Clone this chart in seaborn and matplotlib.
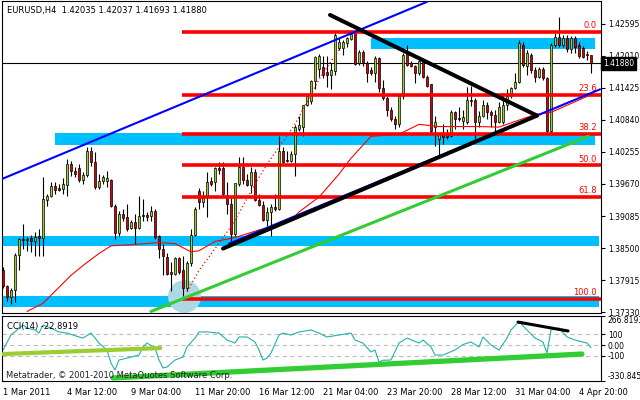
import numpy as np
import seaborn as sns
import matplotlib.pyplot as plt
from matplotlib.transforms import blended_transform_factory

OUTPUT = "out.png"

# --- EURUSD H4 bars (bar 0 = 1 Mar 2011 20:00, weekends skipped) ---
opens = [
    1.3809, 1.3780, 1.3760, 1.3773, 1.3838, 1.3867, 1.3865, 1.3869, 1.3862, 1.3872,
    1.3869, 1.3938, 1.3945, 1.3963, 1.3960, 1.3958, 1.3965, 1.4003, 1.3991, 1.3996,
    1.3974, 1.3983, 1.4027, 1.4007, 1.3962, 1.3972, 1.3972, 1.3974, 1.3927, 1.3878,
    1.3912, 1.3907, 1.3887, 1.3898, 1.3887, 1.3911, 1.3911, 1.3909, 1.3918, 1.3872,
    1.3849, 1.3834, 1.3807, 1.3803, 1.3831, 1.3809, 1.3776, 1.3822, 1.3874, 1.3954,
    1.3934, 1.3945, 1.3972, 1.3971, 1.3996, 1.3996, 1.3947, 1.3931, 1.3876, 1.3967,
    1.3998, 1.3974, 1.3965, 1.3989, 1.3938, 1.3929, 1.3902, 1.3916, 1.3925, 1.3922,
    1.4027, 1.4011, 1.4009, 1.4022, 1.4067, 1.4072, 1.4112, 1.4118, 1.4156, 1.4178,
    1.4180, 1.4172, 1.4167, 1.4174, 1.4216, 1.4216, 1.4225, 1.4232, 1.4243, 1.4189,
    1.4209, 1.4189, 1.4176, 1.4170, 1.4198, 1.4143, 1.4125, 1.4103, 1.4085, 1.4076,
    1.4127, 1.4209, 1.4189, 1.4182, 1.4170, 1.4191, 1.4163, 1.4149, 1.4072, 1.4049,
    1.4058, 1.4058, 1.4054, 1.4098, 1.4087, 1.4082, 1.4080, 1.4121, 1.4121, 1.4080,
    1.4091, 1.4111, 1.4098, 1.4094, 1.4081, 1.4080, 1.4112, 1.4127, 1.4143, 1.4154,
    1.4221, 1.4182, 1.4203, 1.4176, 1.4163, 1.4178, 1.4161, 1.4063, 1.4221, 1.4236,
    1.4221, 1.4234, 1.4214, 1.4234, 1.4221, 1.4216, 1.4205, 1.42035,
]
highs = [
    1.3816, 1.3783, 1.3776, 1.3840, 1.3869, 1.3894, 1.3871, 1.3874, 1.3880, 1.3885,
    1.3980, 1.3949, 1.3971, 1.3971, 1.3967, 1.3978, 1.4012, 1.4009, 1.3998, 1.4003,
    1.3989, 1.4034, 1.4034, 1.4025, 1.3985, 1.3983, 1.3991, 1.3976, 1.3931, 1.3918,
    1.3922, 1.3931, 1.3902, 1.3912, 1.3945, 1.3940, 1.3916, 1.3927, 1.3922, 1.3874,
    1.3858, 1.3840, 1.3825, 1.3834, 1.3834, 1.3836, 1.3827, 1.3885, 1.3925, 1.3960,
    1.3954, 1.3989, 1.3980, 1.3998, 1.4007, 1.4007, 1.3971, 1.3945, 1.3969, 1.4016,
    1.4016, 1.3985, 1.3998, 1.3994, 1.3949, 1.3936, 1.3925, 1.3931, 1.3949, 1.4054,
    1.4034, 1.4027, 1.4027, 1.4074, 1.4091, 1.4112, 1.4131, 1.4158, 1.4201, 1.4205,
    1.4201, 1.4201, 1.4189, 1.4243, 1.4234, 1.4230, 1.4236, 1.4243, 1.4245, 1.4212,
    1.4212, 1.4191, 1.4180, 1.4201, 1.4200, 1.4158, 1.4127, 1.4107, 1.4091, 1.4131,
    1.4207, 1.4221, 1.4192, 1.4185, 1.4194, 1.4194, 1.4167, 1.4149, 1.4091, 1.4061,
    1.4076, 1.4067, 1.4103, 1.4100, 1.4107, 1.4103, 1.4145, 1.4147, 1.4125, 1.4100,
    1.4121, 1.4116, 1.4103, 1.4103, 1.4116, 1.4134, 1.4140, 1.4145, 1.4170, 1.4230,
    1.4227, 1.4212, 1.4207, 1.4180, 1.4180, 1.4180, 1.4163, 1.4225, 1.4243, 1.4272,
    1.4240, 1.4240, 1.4238, 1.4238, 1.4227, 1.4220, 1.4210, 1.42037,
]
lows = [
    1.3776, 1.3753, 1.3747, 1.3751, 1.3809, 1.3849, 1.3845, 1.3843, 1.3836, 1.3836,
    1.3836, 1.3927, 1.3943, 1.3949, 1.3954, 1.3949, 1.3945, 1.3982, 1.3980, 1.3971,
    1.3967, 1.3980, 1.4000, 1.3958, 1.3958, 1.3967, 1.3962, 1.3925, 1.3867, 1.3872,
    1.3900, 1.3882, 1.3885, 1.3858, 1.3885, 1.3900, 1.3900, 1.3900, 1.3867, 1.3831,
    1.3800, 1.3800, 1.3771, 1.3800, 1.3803, 1.3762, 1.3771, 1.3818, 1.3872, 1.3922,
    1.3925, 1.3907, 1.3963, 1.3954, 1.3985, 1.3945, 1.3912, 1.3854, 1.3872, 1.3963,
    1.3967, 1.3963, 1.3951, 1.3936, 1.3927, 1.3900, 1.3891, 1.3872, 1.3918, 1.3920,
    1.4003, 1.4007, 1.4007, 1.3982, 1.4063, 1.4054, 1.4109, 1.4114, 1.4140, 1.4163,
    1.4161, 1.4145, 1.4140, 1.4167, 1.4212, 1.4203, 1.4218, 1.4230, 1.4185, 1.4185,
    1.4182, 1.4154, 1.4167, 1.4154, 1.4136, 1.4121, 1.4091, 1.4082, 1.4067, 1.4072,
    1.4123, 1.4182, 1.4180, 1.4152, 1.4167, 1.4161, 1.4145, 1.4061, 1.4036, 1.4018,
    1.4040, 1.4049, 1.4052, 1.4067, 1.4082, 1.4067, 1.4076, 1.4109, 1.4049, 1.4072,
    1.4089, 1.4085, 1.4072, 1.4061, 1.4078, 1.4076, 1.4103, 1.4125, 1.4140, 1.4152,
    1.4180, 1.4167, 1.4170, 1.4154, 1.4161, 1.4158, 1.4061, 1.4061, 1.4218, 1.4218,
    1.4218, 1.4209, 1.4207, 1.4207, 1.4198, 1.4198, 1.4194, 1.41693,
]
closes = [
    1.3780, 1.3760, 1.3773, 1.3838, 1.3867, 1.3865, 1.3867, 1.3862, 1.3871, 1.3869,
    1.3940, 1.3945, 1.3963, 1.3956, 1.3956, 1.3967, 1.4003, 1.3991, 1.3985, 1.3974,
    1.3983, 1.4027, 1.4007, 1.3962, 1.3972, 1.3980, 1.3978, 1.3927, 1.3878, 1.3912,
    1.3905, 1.3885, 1.3898, 1.3887, 1.3909, 1.3909, 1.3907, 1.3918, 1.3871, 1.3849,
    1.3836, 1.3802, 1.3802, 1.3831, 1.3807, 1.3776, 1.3822, 1.3874, 1.3922, 1.3934,
    1.3942, 1.3971, 1.3967, 1.3996, 1.3992, 1.3949, 1.3931, 1.3876, 1.3969, 1.3998,
    1.3974, 1.3965, 1.3989, 1.3938, 1.3929, 1.3902, 1.3916, 1.3925, 1.3922, 1.4027,
    1.4007, 1.4009, 1.4022, 1.4071, 1.4074, 1.4111, 1.4127, 1.4156, 1.4200, 1.4201,
    1.4167, 1.4167, 1.4176, 1.4240, 1.4227, 1.4227, 1.4234, 1.4242, 1.4187, 1.4209,
    1.4189, 1.4170, 1.4170, 1.4198, 1.4143, 1.4125, 1.4103, 1.4085, 1.4076, 1.4127,
    1.4203, 1.4185, 1.4182, 1.4170, 1.4191, 1.4163, 1.4147, 1.4063, 1.4081, 1.4058,
    1.4052, 1.4052, 1.4098, 1.4085, 1.4085, 1.4089, 1.4121, 1.4118, 1.4080, 1.4091,
    1.4112, 1.4098, 1.4094, 1.4081, 1.4107, 1.4112, 1.4127, 1.4143, 1.4154, 1.4225,
    1.4185, 1.4207, 1.4176, 1.4163, 1.4178, 1.4161, 1.4063, 1.4221, 1.4236, 1.4221,
    1.4234, 1.4214, 1.4234, 1.4218, 1.4201, 1.4200, 1.4203, 1.41880,
]

# moving average (solid thin red) and the dotted red average
ma_idx = [6, 10, 17, 20, 24, 27, 32, 39, 43, 47, 49, 53, 58, 64, 69, 72, 74, 79,
          84, 87, 92, 99, 104, 109, 119, 124, 133, 137, 146, 147]
ma_val = [1.3734, 1.3749, 1.3800, 1.3818, 1.3840, 1.3854, 1.3856, 1.3860, 1.3858,
          1.3843, 1.3845, 1.3862, 1.3869, 1.3883, 1.3891, 1.3900, 1.3916, 1.3943,
          1.3985, 1.4014, 1.4054, 1.4058, 1.4076, 1.4072, 1.4072, 1.4071, 1.4094,
          1.4098, 1.4127, 1.4131]
dot_idx = [46, 49, 53, 57, 60, 63, 66, 69, 73, 77, 79, 82, 84]
dot_val = [1.3770, 1.3809, 1.3849, 1.3889, 1.3927, 1.3967, 1.4003, 1.4034, 1.4076,
           1.4131, 1.4158, 1.4191, 1.4212]

# CCI(14)
cci_idx = [0, 2, 5, 6, 8, 9, 10, 12, 14, 16, 19, 20, 22, 24, 26, 27, 28, 29, 31, 34,
           35, 36, 38, 39, 40, 41, 43, 45, 46, 48, 49, 51, 54, 56, 58, 59, 61, 63, 64,
           65, 66, 67, 69, 70, 72, 74, 77, 79, 81, 84, 87, 88, 90, 92, 93, 94, 95, 97,
           99, 101, 104, 105, 107, 108, 110, 113, 115, 117, 119, 120, 122, 124, 126,
           127, 129, 131, 133, 135, 136, 137, 139, 141, 143, 146, 147]
cci_val = [-46, 92, 184, 156, 138, 110, 184, 156, 120, 110, 74, 64, 110, 18, -46, -166,
           -230, -138, -120, -92, -18, 18, -28, -138, -211, -202, -138, -110, -18, 64,
           120, 120, 110, 46, 18, 74, 74, 28, -46, -138, -120, -74, 92, 110, 92, 120,
           138, 110, 74, 92, 110, 46, 18, -64, -46, -156, -140, -138, 18, 64, 18, 46,
           -18, -92, -92, -46, 5, 28, -18, 74, 0, -46, 64, 138, 215, 138, 64, 28, -74,
           138, 156, 74, 46, 18, -22.8919]

# drawn objects: zones, trend lines, fibonacci
zone_x0 = [92, 13, -1, -1]
zone_x1 = [148, 148, 149, 149]
zone_lo = [1.4214, 1.4038, 1.3854, 1.3743]
zone_hi = [1.4234, 1.4060, 1.3872, 1.3762]

chan_up_x, chan_up_y = [0, 106], [1.3977, 1.4300]
chan_lo_x, chan_lo_y = [56.5, 149.25], [1.3858, 1.4140]
support_x, support_y = [55, 133.5], [1.3849, 1.4092]
resist_x, resist_y = [81.75, 133.5], [1.4276, 1.4092]
green_x, green_y = [37, 146.25], [1.3734, 1.4054]

fib_high, fib_low, fib_start = 1.4245, 1.3757, 44.75
fib_levels = [0.0, 23.6, 38.2, 50.0, 61.8, 100.0]

cci_yg_x, cci_yg_y = [0, 39.3], [-83, -28]
cci_lime_x, cci_lime_y = [27.5, 144.75], [-303, -83]
cci_blk_x, cci_blk_y = [128.75, 141.25], [211, 129]

price_ticks = [1.42595, 1.42010, 1.41425, 1.40840, 1.40255,
               1.39670, 1.39085, 1.38500, 1.37915, 1.37330]
cci_ticks = [266.8193, 100, 0, -100, -330.845]
cci_tick_labels = ["266.8193", "100", "0.00", "-100", "-330.845"]
date_pos = [0, 16, 32, 48, 64, 80, 96, 112, 128, 144]
date_labels = ["1 Mar 2011", "4 Mar 12:00", "9 Mar 04:00", "11 Mar 20:00",
               "16 Mar 12:00", "21 Mar 04:00", "23 Mar 20:00", "28 Mar 12:00",
               "31 Mar 04:00", "4 Apr 20:00"]
last_price = 1.41880

BULL = "#9ACD32"
BEAR = "#D80000"
ZONE = "#00BFFF"

sns.set_theme(style="white")
plt.rcParams["font.family"] = ["DejaVu Sans"]
plt.rcParams["font.size"] = 6

fig = plt.figure(figsize=(6.4, 4.0), dpi=100)
fig.patch.set_facecolor("white")
ax = fig.add_axes([2 / 640, 87 / 400, 599 / 640, 312 / 400])
ax_cci = fig.add_axes([2 / 640, 19 / 400, 599 / 640, 65 / 400])

# --- main price panel ---
idx = np.arange(len(opens))
o, h, l, c = map(np.array, (opens, highs, lows, closes))
up = c >= o
body_lo = np.minimum(o, c)
body_h = np.maximum(np.abs(c - o), 0.00003)

for x0, x1, lo, hi in zip(zone_x0, zone_x1, zone_lo, zone_hi):
    ax.fill_between([x0, x1], lo, hi, color=ZONE, linewidth=0, zorder=1)
ax.scatter([45.25], [1.3762], s=560, color="#ADD8E6", linewidths=0, zorder=1.5)
ax.axhline(last_price, color="black", lw=0.8, zorder=2)

ax.vlines(idx, l, h, color="black", linewidth=0.8, zorder=3)
ax.bar(idx[up], body_h[up], bottom=body_lo[up], width=0.7, color=BULL,
       edgecolor="black", linewidth=0.5, zorder=4)
ax.bar(idx[~up], body_h[~up], bottom=body_lo[~up], width=0.7, color=BEAR,
       edgecolor="black", linewidth=0.5, zorder=4)

sns.lineplot(x=ma_idx, y=ma_val, ax=ax, color="red", lw=0.8, zorder=5,
             estimator=None, sort=False)
sns.lineplot(x=dot_idx, y=dot_val, ax=ax, color="red", lw=0.9, zorder=5,
             linestyle=(0, (1, 2)), estimator=None, sort=False)

fib_prices = [fib_high - (fib_high - fib_low) * r / 100 for r in fib_levels]
ax.hlines(fib_prices, fib_start, 149.5, color="red", lw=2.6, zorder=6)
for r, p in zip(fib_levels, fib_prices):
    ax.annotate(f"{r:.1f}", xy=(0.993, p),
                xycoords=blended_transform_factory(ax.transAxes, ax.transData),
                xytext=(0, 1.2), textcoords="offset points", ha="right",
                va="bottom", color="red", fontsize=6, zorder=7)

ax.plot(chan_up_x, chan_up_y, color="#0000FF", lw=1.5, zorder=7)
ax.plot(chan_lo_x, chan_lo_y, color="#0000FF", lw=1.5, zorder=7)
ax.plot(green_x, green_y, color="#32CD32", lw=2.2, zorder=7)
ax.plot(support_x, support_y, color="black", lw=2.9, zorder=8)
ax.plot(resist_x, resist_y, color="black", lw=2.9, zorder=8)

ax.set_xlim(-0.25, 149.5)
ax.set_ylim(1.37312, 1.43015)
ax.set_xticks([])
ax.yaxis.tick_right()
ax.set_yticks(price_ticks)
ax.set_yticklabels([f"{v:.5f}" for v in price_ticks])
ax.tick_params(axis="y", direction="out", length=3, width=0.8, pad=2,
               labelsize=5.5, colors="black")
ax.annotate(f"{last_price:.5f}", xy=(1.0, last_price),
            xycoords=blended_transform_factory(ax.transAxes, ax.transData),
            xytext=(1.5, 0), textcoords="offset points", ha="left", va="center",
            color="white", fontsize=5.5, annotation_clip=False,
            bbox=dict(boxstyle="square,pad=0.25", fc="black", ec="black"))

fig.text(7 / 640, 1 - 11 / 400, "EURUSD,H4  1.42035 1.42037 1.41693 1.41880",
         ha="left", va="center", fontsize=6, color="black")

# --- CCI panel ---
for lev in (100, 0, -100):
    ax_cci.axhline(lev, color="#BEBEBE", lw=0.8, linestyle=(0, (4, 3)), zorder=1)
sns.lineplot(x=cci_idx, y=cci_val, ax=ax_cci, color="#20B2AA", lw=0.8, zorder=2,
             estimator=None, sort=False)
ax_cci.plot(cci_yg_x, cci_yg_y, color="#9ACD32", lw=3.0, zorder=3)
ax_cci.plot(cci_lime_x, cci_lime_y, color="#32CD32", lw=3.8, zorder=3)
ax_cci.plot(cci_blk_x, cci_blk_y, color="black", lw=2.2, zorder=3)

ax_cci.set_xlim(-0.25, 149.5)
ax_cci.set_ylim(-330.845, 266.8193)
ax_cci.yaxis.tick_right()
ax_cci.set_yticks(cci_ticks)
ax_cci.set_yticklabels(cci_tick_labels)
ax_cci.tick_params(axis="y", direction="out", length=3, width=0.8, pad=2,
                   labelsize=5.5, colors="black")
ylabels = ax_cci.get_yticklabels()
ylabels[0].set_va("top")
ylabels[-1].set_va("bottom")
ax_cci.set_xticks(date_pos)
ax_cci.set_xticklabels(date_labels)
ax_cci.tick_params(axis="x", direction="out", length=4, width=0.8, pad=1,
                   labelsize=6, colors="black")
for lab in ax_cci.get_xticklabels():
    lab.set_ha("left")

ax_cci.text(5 / 599, 0.846, "CCI(14) -22.8919", transform=ax_cci.transAxes,
            ha="left", va="center", fontsize=6, color="black", zorder=4)
ax_cci.text(4 / 599, 0.09, "Metatrader, \u00a9 2001-2010 MetaQuotes Software Corp.",
            transform=ax_cci.transAxes, ha="left", va="center", fontsize=6,
            color="#202020", zorder=4)

for a in (ax, ax_cci):
    a.set_facecolor("white")
    a.set_xlabel("")
    a.set_ylabel("")
    for sp in a.spines.values():
        sp.set_color("black")
        sp.set_linewidth(0.8)

fig.savefig(OUTPUT, dpi=100)
